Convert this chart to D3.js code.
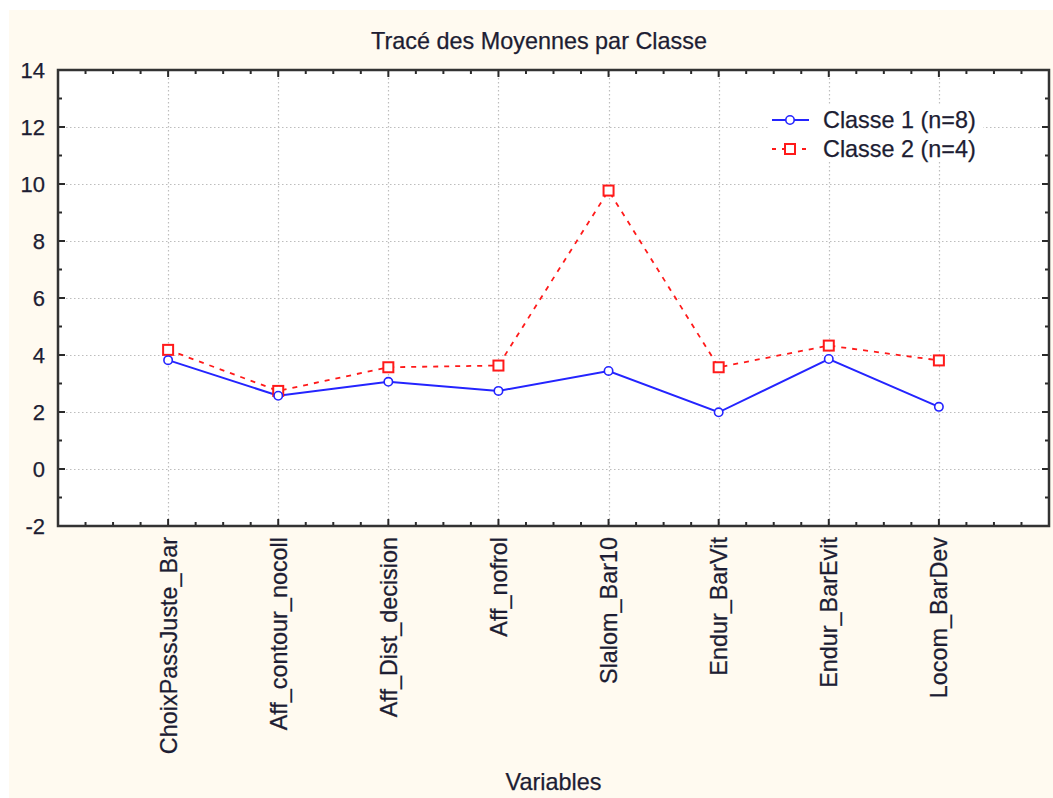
<!DOCTYPE html>
<html>
<head>
<meta charset="utf-8">
<script src="https://cdn.jsdelivr.net/npm/d3@7"></script>
<style>
  html, body { margin: 0; padding: 0; background: #ffffff; }
  svg { display: block; }
  text { font-family: Arial, "Liberation Sans", sans-serif; fill: #1d1d33; stroke: #1d1d33; stroke-width: 0.25px; }
</style>
</head>
<body>
<svg id="chart" width="1053" height="798"></svg>
<script>
// Variables (in plotting order)
const categories = [
  "ChoixPassJuste_Bar", "Aff_contour_nocoll", "Aff_Dist_decision", "Aff_nofrol",
  "Slalom_Bar10", "Endur_BarVit", "Endur_BarEvit", "Locom_BarDev"
];
// Class means
const classe1 = [3.82, 2.57, 3.06, 2.74, 3.44, 1.99, 3.86, 2.18];
const classe2 = [4.18, 2.74, 3.57, 3.63, 9.77, 3.57, 4.33, 3.81];
const seriesNames = ["Classe 1 (n=8)", "Classe 2 (n=4)"];
const yTicks = [-2, 0, 2, 4, 6, 8, 10, 12, 14];

const svg = d3.select("#chart");
const W = 1053, H = 798;
const plot = { left: 58, top: 70, right: 1049, bottom: 526 };
const FS = 23.4;

// panel background
svg.append("rect").attr("x", 9).attr("y", 10).attr("width", W - 9).attr("height", H - 10)
  .attr("fill", "#fffaf0");
svg.append("rect").attr("x", plot.left).attr("y", plot.top)
  .attr("width", plot.right - plot.left).attr("height", plot.bottom - plot.top)
  .attr("fill", "#ffffff");

const x = d3.scaleLinear().domain([0, categories.length + 1]).range([plot.left, plot.right]);
const y = d3.scaleLinear().domain([-2, 14]).range([plot.bottom, plot.top]);

// grid
const grid = svg.append("g").attr("stroke", "#bdbdbd").attr("stroke-width", 1.2)
  .attr("stroke-dasharray", "1.5,2.5");
yTicks.slice(1, -1).forEach(v => {
  grid.append("line").attr("x1", plot.left).attr("x2", plot.right)
    .attr("y1", Math.round(y(v)) + 0.5).attr("y2", Math.round(y(v)) + 0.5);
});
categories.forEach((c, i) => {
  grid.append("line").attr("y1", plot.top).attr("y2", plot.bottom)
    .attr("x1", Math.round(x(i + 1)) + 0.5).attr("x2", Math.round(x(i + 1)) + 0.5);
});

// inward ticks on all four sides
const tickColor = "#2a2a2a";
const yMajor = d3.range(-2, 14.01, 2);
const yMinor = d3.range(-1, 14, 2);
const xMajor = d3.range(1, categories.length + 1);
const xMinor = d3.range(0.25, categories.length + 1, 0.25).filter(v => Math.abs(v - Math.round(v)) > 1e-6);
const ticks = svg.append("g").attr("stroke", tickColor).attr("stroke-width", 2);
[[plot.left, 1], [plot.right, -1]].forEach(([x0, dir]) => {
  yMajor.forEach(v => ticks.append("line").attr("x1", x0).attr("x2", x0 + dir * 7).attr("y1", y(v)).attr("y2", y(v)));
  yMinor.forEach(v => ticks.append("line").attr("x1", x0).attr("x2", x0 + dir * 4).attr("y1", y(v)).attr("y2", y(v)));
});
[[plot.bottom, -1], [plot.top, 1]].forEach(([y0, dir]) => {
  xMajor.forEach(v => ticks.append("line").attr("y1", y0).attr("y2", y0 + dir * 7).attr("x1", x(v)).attr("x2", x(v)));
  xMinor.forEach(v => ticks.append("line").attr("y1", y0).attr("y2", y0 + dir * 4).attr("x1", x(v)).attr("x2", x(v)));
});

// frame
svg.append("rect").attr("x", plot.left).attr("y", plot.top)
  .attr("width", plot.right - plot.left).attr("height", plot.bottom - plot.top)
  .attr("fill", "none").attr("stroke", "#333333").attr("stroke-width", 2.5);

// y labels
svg.append("g").selectAll("text").data(yTicks).join("text")
  .attr("x", 45).attr("y", d => y(d)).attr("dy", "0.36em")
  .attr("text-anchor", "end").attr("font-size", 22).text(d => d);

// x labels (rotated)
svg.append("g").selectAll("text").data(categories).join("text")
  .attr("transform", (d, i) => `translate(${x(i + 1)},${plot.bottom + 11}) rotate(-90)`)
  .attr("text-anchor", "end").attr("dy", "0.36em").attr("font-size", FS).text(d => d);

// title and axis title
svg.append("text").attr("x", 539).attr("y", 49).attr("text-anchor", "middle")
  .attr("font-size", FS).text("Tracé des Moyennes par Classe");
svg.append("text").attr("x", (plot.left + plot.right) / 2).attr("y", 790).attr("text-anchor", "middle")
  .attr("font-size", FS).text("Variables");

// series
const line = d3.line().x((d, i) => x(i + 1)).y(d => y(d));
svg.append("path").datum(classe2).attr("d", line).attr("fill", "none")
  .attr("stroke", "#ff1a1a").attr("stroke-width", 1.8).attr("stroke-dasharray", "5,6");
svg.append("path").datum(classe1).attr("d", line).attr("fill", "none")
  .attr("stroke", "#2424ff").attr("stroke-width", 2);

svg.append("g").selectAll("rect").data(classe2).join("rect")
  .attr("x", (d, i) => x(i + 1) - 5).attr("y", d => y(d) - 5)
  .attr("width", 10).attr("height", 10)
  .attr("fill", "#ffffff").attr("stroke", "#ff1a1a").attr("stroke-width", 2);
svg.append("g").selectAll("circle").data(classe1).join("circle")
  .attr("cx", (d, i) => x(i + 1)).attr("cy", d => y(d)).attr("r", 4.2)
  .attr("fill", "#ffffff").attr("stroke", "#2424ff").attr("stroke-width", 1.6);

// legend
const lg = svg.append("g");
const ly = [120, 149];
lg.append("rect").attr("x", 768).attr("y", 106).attr("width", 215).attr("height", 56).attr("fill", "#ffffff");
lg.append("line").attr("x1", 772).attr("x2", 809).attr("y1", ly[0]).attr("y2", ly[0])
  .attr("stroke", "#2424ff").attr("stroke-width", 2);
lg.append("circle").attr("cx", 790).attr("cy", ly[0]).attr("r", 4.2)
  .attr("fill", "#ffffff").attr("stroke", "#2424ff").attr("stroke-width", 1.6);
lg.append("line").attr("x1", 772).attr("x2", 809).attr("y1", ly[1]).attr("y2", ly[1])
  .attr("stroke", "#ff1a1a").attr("stroke-width", 1.8).attr("stroke-dasharray", "4,6");
lg.append("rect").attr("x", 785).attr("y", ly[1] - 5).attr("width", 10).attr("height", 10)
  .attr("fill", "#ffffff").attr("stroke", "#ff1a1a").attr("stroke-width", 2);
lg.selectAll("text.lab").data(seriesNames).join("text").attr("class", "lab")
  .attr("x", 823).attr("y", (d, i) => ly[i]).attr("dy", "0.36em")
  .attr("font-size", FS).text(d => d);
</script>
</body>
</html>
